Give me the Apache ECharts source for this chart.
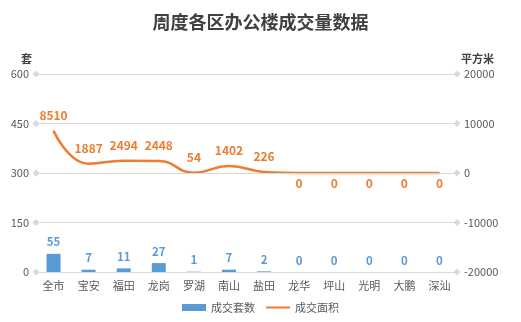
<!DOCTYPE html>
<html><head><meta charset="utf-8">
<script src="https://cdn.jsdelivr.net/npm/echarts@6/dist/echarts.min.js"></script>
<style>html,body{margin:0;padding:0;background:#fff}#c{width:521px;height:322px}</style>
</head><body><div id="c"></div>
<script>
var categories = ['全市','宝安','福田','龙岗','罗湖','南山','盐田','龙华','坪山','光明','大鹏','深汕'];
var unitsSold = [55, 7, 11, 27, 1, 7, 2, 0, 0, 0, 0, 0];
var areaSold = [8510, 1887, 2494, 2448, 54, 1402, 226, 0, 0, 0, 0, 0];
var leftTicks = [0, 150, 300, 450, 600];

var chart = echarts.init(document.getElementById('c'));
var font = '"Microsoft YaHei","Noto Sans CJK SC",sans-serif';
var areaData = areaSold.map(function (v) {
  return v === 0 ? {value: v, label: {position: 'bottom', distance: 4}} : {value: v};
});
chart.setOption({
  animation: false,
  textStyle: {fontFamily: font},
  title: {
    text: '周度各区办公楼成交量数据', left: 'center', top: 8,
    textStyle: {fontSize: 18, fontWeight: 'bold', color: '#404040', fontFamily: '"Noto Sans CJK SC",serif'}
  },
  legend: {
    bottom: 4, left: 'center', itemWidth: 24, itemHeight: 7, itemGap: 10,
    textStyle: {color: '#595959', fontSize: 11},
    data: [{name: '成交套数', icon: 'rect'}, {name: '成交面积', itemStyle: {opacity: 0}}]
  },
  grid: {left: 36, right: 64, top: 74, bottom: 50},
  xAxis: {
    type: 'category', data: categories,
    axisLine: {show: false}, axisTick: {show: false},
    axisLabel: {color: '#595959', fontSize: 11, margin: 8}
  },
  yAxis: [{
    type: 'value', min: 0, max: 600, interval: 150,
    name: '套', nameGap: 10,
    nameTextStyle: {color: '#404040', fontWeight: 'bold', fontSize: 11, align: 'right', padding: [0, 4, 0, 0]},
    axisLine: {show: false}, axisTick: {show: false}, splitLine: {show: false},
    axisLabel: {color: '#595959', fontSize: 11, margin: 7}
  }, {
    type: 'value', min: -20000, max: 20000, interval: 10000,
    name: '平方米', nameGap: 10,
    nameTextStyle: {color: '#404040', fontWeight: 'bold', fontSize: 11, align: 'left', padding: [0, 0, 0, 4]},
    axisLine: {show: false}, axisTick: {show: false}, splitLine: {show: false},
    axisLabel: {color: '#595959', fontSize: 11, margin: 7, formatter: function (v) { return String(v); }}
  }],
  series: [{
    name: '成交套数', type: 'bar', data: unitsSold, barWidth: 14,
    itemStyle: {color: '#5B9BD5'},
    label: {show: true, position: 'top', distance: 6, color: '#5B9BD5', fontWeight: 'bold', fontSize: 11.5},
    markLine: {
      silent: true, symbol: ['diamond', 'diamond'], symbolSize: 7,
      lineStyle: {color: '#D9D9D9', type: 'solid', width: 1},
      label: {show: false}, emphasis: {disabled: true},
      data: leftTicks.map(function (v) { return {yAxis: v}; })
    },
    z: 3
  }, {
    name: '成交面积', type: 'line', yAxisIndex: 1, data: areaData,
    smooth: true, showSymbol: true, symbol: 'circle', symbolSize: 1,
    lineStyle: {color: '#ED7D31', width: 2.5}, itemStyle: {color: '#ED7D31'},
    label: {
      show: true, color: '#ED7D31', fontWeight: 'bold', fontSize: 12,
      position: 'top', distance: 9
    },
    z: 4
  }]
});
</script></body></html>
